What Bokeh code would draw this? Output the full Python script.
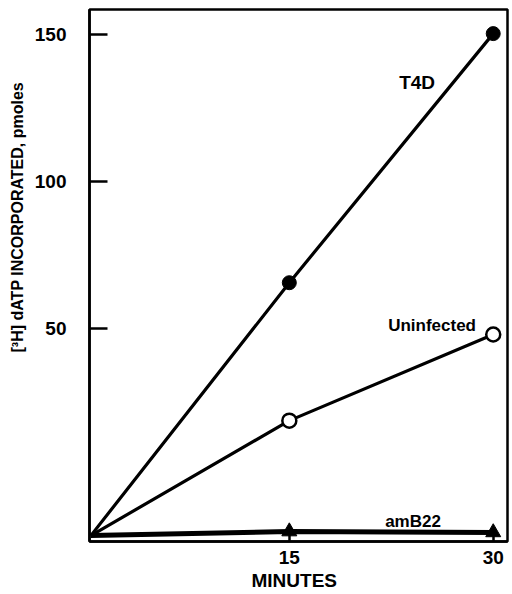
from bokeh.plotting import figure
from bokeh.models import Range1d, FixedTicker, Label, ColumnDataSource, Title
from bokeh.embed import file_html
from bokeh.resources import INLINE

# ---- data ----
minutes = [0.4, 15, 30]
t4d = [-20.4, 65.6, 150.3]
uninfected = [-20.4, 18.7, 48.0]
amb22 = [-20.4, -19.0, -19.3]

x_ticks = [15, 30]
y_ticks = [50, 100, 150]

FONT = "Liberation Sans"

p = figure(width=512, height=594, output_backend="svg", toolbar_location=None,
           x_range=Range1d(0.3, 31.05), y_range=Range1d(-22.4, 158.5),
           min_border_left=89, min_border_right=5, min_border_top=9, min_border_bottom=53)
p.background_fill_color = "white"
p.border_fill_color = "white"
p.outline_line_color = "black"
p.outline_line_width = 2.5
p.xgrid.visible = False
p.ygrid.visible = False

for ax in (p.xaxis[0], p.yaxis[0]):
    ax.axis_line_width = 2.5
    ax.axis_line_color = "black"
    ax.major_tick_line_width = 2.5
    ax.major_tick_line_color = "black"
    ax.minor_tick_line_color = None
    ax.major_tick_out = 0
    ax.major_label_text_font = FONT
    ax.major_label_text_font_style = "bold"
    ax.major_label_text_font_size = "19px"
    ax.major_label_text_color = "black"

p.xaxis.ticker = FixedTicker(ticks=x_ticks)
p.yaxis.ticker = FixedTicker(ticks=y_ticks)
p.xaxis.major_tick_in = 14
p.yaxis.major_tick_in = 18
p.xaxis.major_label_standoff = 9
p.yaxis.major_label_standoff = 23

src = ColumnDataSource(dict(x=minutes, t4d=t4d, un=uninfected, am=amb22))

p.line("x", "am", source=src, line_color="black", line_width=5)
p.line("x", "un", source=src, line_color="black", line_width=3.2)
p.line("x", "t4d", source=src, line_color="black", line_width=3.2)

p.scatter(x=minutes[1:], y=t4d[1:], marker="circle", size=14,
          fill_color="black", line_color="black")
p.scatter(x=minutes[1:], y=uninfected[1:], marker="circle", size=14,
          fill_color="white", line_color="black", line_width=2.5)
p.scatter(x=minutes[1:], y=amb22[1:], marker="triangle", size=15,
          fill_color="black", line_color="black")

def lab(txt, x, y, size):
    p.add_layout(Label(x=x, y=y, text=txt, text_font=FONT, text_font_style="bold",
                       text_font_size=size, text_color="black", text_align="center",
                       text_baseline="middle"))

lab("T4D", 24.4, 133.7, "19px")
lab("Uninfected", 25.5, 51.0, "17px")
lab("amB22", 24.1, -15.6, "17px")

p.add_layout(Title(text="[³H] dATP INCORPORATED, pmoles", align="left", offset=189,
                   text_font=FONT, text_font_style="bold", text_font_size="16px",
                   text_color="black", standoff=12), "left")
p.add_layout(Title(text="MINUTES", align="left", offset=162,
                   text_font=FONT, text_font_style="bold", text_font_size="19px",
                   text_color="black", standoff=2), "below")

open("out.html", "w").write(file_html(p, INLINE))
